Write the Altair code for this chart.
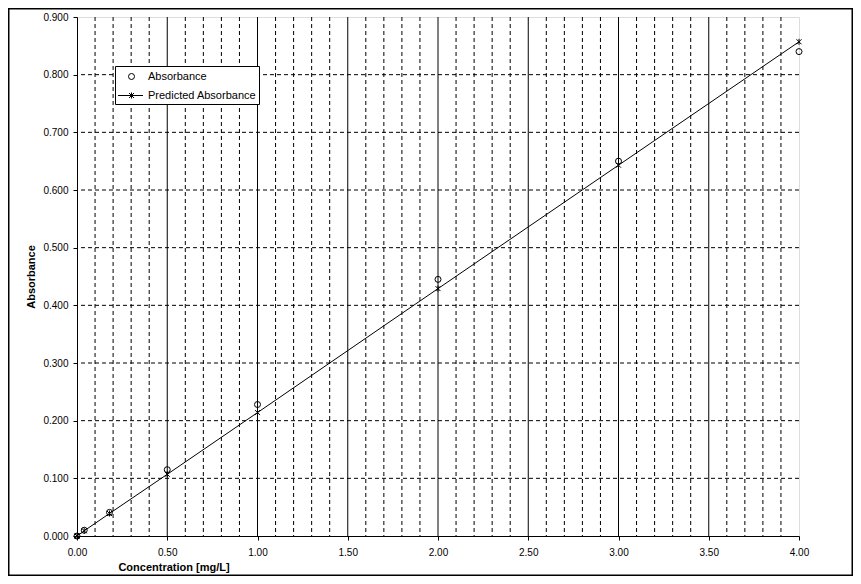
import altair as alt
import pandas as pd

# ---- data ----
conc = [0.0, 0.04, 0.18, 0.5, 1.0, 2.0, 3.0, 4.0]
absorbance = [0.000, 0.010, 0.041, 0.115, 0.228, 0.445, 0.650, 0.840]
predicted = [0.000, 0.009, 0.039, 0.107, 0.214, 0.429, 0.643, 0.857]

x_major = [0.5, 1.0, 1.5, 2.0, 2.5, 3.0, 3.5]
x_minor = [round(i / 10, 1) for i in range(1, 40) if i % 5 != 0]
y_grid = [0.1, 0.2, 0.3, 0.4, 0.5, 0.6, 0.7, 0.8]
x_ticks = [0.0, 0.5, 1.0, 1.5, 2.0, 2.5, 3.0, 3.5, 4.0]
y_ticks = [0.0, 0.1, 0.2, 0.3, 0.4, 0.5, 0.6, 0.7, 0.8, 0.9]

legend_labels = ["Absorbance", "Predicted Absorbance"]

FONT = "Liberation Sans"
STAR = "M-1,-1L1,1M-1,1L1,-1M0,-1.2L0,1.2"

W, H = 722, 519
PAD = {"left": 69, "top": 9, "right": 54, "bottom": 40}
TOTAL_W = PAD["left"] + W + PAD["right"]
TOTAL_H = PAD["top"] + H + PAD["bottom"]

df = pd.DataFrame({"c": conc, "a": absorbance, "p": predicted})
xs = alt.Scale(domain=[0, 4], nice=False, zero=False)
ys = alt.Scale(domain=[0, 0.9], nice=False, zero=False)

x_axis = alt.Axis(
    values=x_ticks, format=".2f", grid=False, title="Concentration [mg/L]",
    domainColor="black", tickColor="black", tickSize=4, labelPadding=7,
    labelFont=FONT, labelFontSize=10, labelColor="black",
    titleFont=FONT, titleFontSize=11, titleFontWeight="bold", titleColor="black",
    titleAnchor="start", titleX=96.5, titleY=31, titleAlign="center",
    titleBaseline="middle", labelFlush=False,
)
y_axis = alt.Axis(
    values=y_ticks, format=".3f", grid=False, title="Absorbance",
    domainColor="black", tickColor="black", tickSize=4, labelPadding=5,
    labelFont=FONT, labelFontSize=10, labelColor="black",
    titleFont=FONT, titleFontSize=11, titleFontWeight="bold", titleColor="black",
    titleX=-46, titleY=259.5, titleAngle=270, titleAlign="center",
    titleBaseline="middle", labelFlush=False,
)

minor = alt.Chart(pd.DataFrame({"v": x_minor})).mark_rule(
    color="black", strokeWidth=1, strokeDash=[4, 3]
).encode(x=alt.X("v:Q", scale=xs, axis=x_axis))

major = alt.Chart(pd.DataFrame({"v": x_major})).mark_rule(
    color="black", strokeWidth=1
).encode(x=alt.X("v:Q", scale=xs))

ygrid = alt.Chart(pd.DataFrame({"v": y_grid})).mark_rule(
    color="black", strokeWidth=1, strokeDash=[4, 3]
).encode(y=alt.Y("v:Q", scale=ys, axis=y_axis))

line = alt.Chart(df).mark_line(color="black", strokeWidth=1).encode(
    x=alt.X("c:Q", scale=xs), y=alt.Y("p:Q", scale=ys)
)
stars = alt.Chart(df).mark_point(
    shape=STAR, size=25, color="black", filled=False, strokeWidth=1, opacity=1
).encode(x=alt.X("c:Q", scale=xs), y=alt.Y("p:Q", scale=ys))
circles = alt.Chart(df).mark_point(
    shape="circle", size=36, color="black", filled=False, strokeWidth=1, opacity=1
).encode(x=alt.X("c:Q", scale=xs), y=alt.Y("a:Q", scale=ys))

# ---- manual legend box (decoration) ----
one = pd.DataFrame({"k": [0]})
leg_box = alt.Chart(one).mark_rect(
    fill="white", stroke="black", strokeWidth=1
).encode(x=alt.value(38.5), x2=alt.value(182.5), y=alt.value(49.5), y2=alt.value(87.5))
leg_circle = alt.Chart(one).mark_point(
    shape="circle", size=36, color="black", filled=False, strokeWidth=1, opacity=1
).encode(x=alt.value(54.5), y=alt.value(59.5))
leg_line = alt.Chart(one).mark_rule(color="black", strokeWidth=1).encode(
    x=alt.value(41), x2=alt.value(66), y=alt.value(78.5)
)
leg_star = alt.Chart(one).mark_point(
    shape=STAR, size=25, color="black", filled=False, strokeWidth=1, opacity=1
).encode(x=alt.value(54.5), y=alt.value(78.5))
leg_t1 = alt.Chart(one).mark_text(
    text=legend_labels[0], align="left", baseline="middle", font=FONT, fontSize=11, color="black"
).encode(x=alt.value(71), y=alt.value(59.5))
leg_t2 = alt.Chart(one).mark_text(
    text=legend_labels[1], align="left", baseline="middle", font=FONT, fontSize=11, color="black"
).encode(x=alt.value(71), y=alt.value(78.5))

# ---- outer frame (decoration) ----
frame = alt.Chart(one).mark_rect(
    filled=False, stroke="black", strokeWidth=1.5
).encode(
    x=alt.value(-PAD["left"] + 0.75), x2=alt.value(TOTAL_W - PAD["left"] - 0.75),
    y=alt.value(-PAD["top"] + 0.75), y2=alt.value(TOTAL_H - PAD["top"] - 0.75),
)

chart = alt.layer(
    minor, major, ygrid, line, stars, circles,
    leg_box, leg_circle, leg_line, leg_star, leg_t1, leg_t2, frame,
).properties(
    width=W, height=H,
    autosize=alt.AutoSizeParams(type="none"),
    padding=PAD,
).configure_view(
    stroke="#808080", strokeWidth=1
).configure(background="white")

chart.save("out.html", embed_options={"renderer": "svg", "actions": False})
